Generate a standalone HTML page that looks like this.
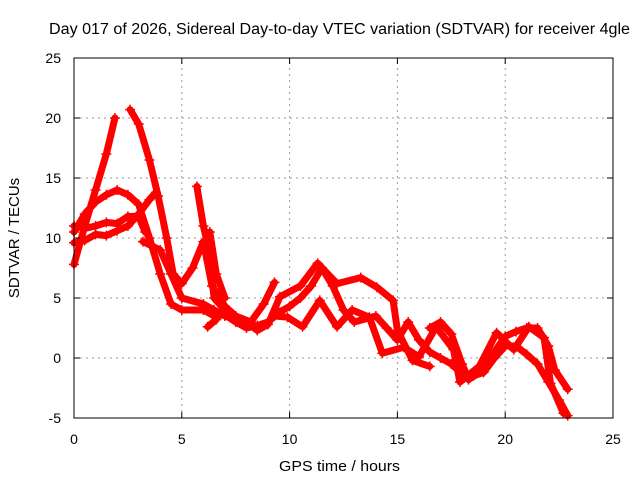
<!DOCTYPE html>
<html><head><meta charset="utf-8"><style>
body{margin:0;background:#fff}
svg{display:block;font-family:"Liberation Sans",sans-serif}
</style></head><body>
<svg id="chart" width="640" height="480" viewBox="0 0 640 480">
<rect width="640" height="480" fill="#fff"/>
<text x="49" y="34" font-size="15.5" textLength="581" lengthAdjust="spacingAndGlyphs">Day 017 of 2026, Sidereal Day-to-day VTEC variation (SDTVAR) for receiver 4gle</text>
<g id="grid"></g>
<g id="series"></g>
<g id="axes"></g>
<text x="279" y="471" font-size="15" textLength="121" lengthAdjust="spacingAndGlyphs">GPS time / hours</text>
<text transform="translate(19,238) rotate(-90)" text-anchor="middle" font-size="15">SDTVAR / TECUs</text>
</svg>
<script>
const xTicks=[0,5,10,15,20,25];
const yTicks=[-5,0,5,10,15,20,25];
const track1=[[0,7.8],[0.5,11],[1,14],[1.5,17],[1.9,20]];
const track2=[[2.6,20.7],[3,19.5],[3.5,16.5],[3.9,13.5],[4.3,10],[4.6,7],[5,6.2],[5.5,7.5],[6,9.7],[6.4,6],[7,4.3],[7.5,3.5],[8.2,3],[8.8,4.5],[9.3,6.3]];
const track3=[[0,10.5],[0.5,12],[1,13],[1.5,13.6],[2,14],[2.5,13.6],[3,12.8],[3.5,10],[4,7],[4.5,4.5],[5,4],[6,4],[6.5,3.5],[7,3.6],[7.5,3],[8,2.5],[8.5,2.7],[9,3],[9.5,3.8],[10,4.3],[10.5,5],[11,6],[11.5,7.5],[12,6],[12.5,4],[13,3],[14,3.5],[14.5,2.5],[15,1.5],[15.5,3],[16,1.5],[16.5,0.5],[17,0],[17.5,-0.5],[18,-1.3],[18.5,-1.5],[19,-1.2],[19.5,0],[20,1],[20.5,1],[21,0.3],[21.5,-0.5],[22,-2],[22.5,-3.5],[22.9,-4.8]];
const track4=[[0,9.6],[0.5,9.8],[1,10.3],[1.5,10.2],[2,10.6],[2.5,11],[3,12],[3.5,13.2],[3.8,13.8]];
const track5=[[0,11],[0.5,10.8],[1,11],[1.5,11.3],[2,11.2],[2.5,11.8],[3,11.8],[3.3,10.5]];
const track6=[[3.2,9.7],[4,9],[4.5,7],[5,5],[6,4.5],[6.5,4],[7,3.5],[8,3],[8.5,2.3],[9,2.8],[9.55,5.1],[10.5,6],[11.3,7.9],[12.2,6.2],[13.3,6.7],[14.05,5.9],[14.8,4.8],[15,2.3],[15.7,-0.2],[16.5,-0.7]];
const track7=[[9.3,3.5],[9.9,3.4],[10.6,2.6],[11.4,4.8],[12.2,2.6],[12.9,4],[13.7,3.4],[14.3,0.4],[15.3,0.9],[16,0.1],[16.8,2.6],[17.6,0.7],[17.9,-2],[18.8,-0.7],[19.6,2.1],[20.4,0.7],[21.1,2.6],[21.8,1.7],[22.1,-2.1],[22.7,-4.6]];
const track8=[[16.5,2.5],[17,3],[17.5,2],[18,-0.5],[18.3,-1.8],[19,-1],[19.5,0.5],[20,1.8],[20.5,2.2],[21,2.5],[21.5,2.5],[22,1],[22.3,-1],[22.9,-2.6]];
const track9=[[5.7,14.3],[6,11],[6.2,9.5],[6.5,5],[7,4]];
const track10=[[6.3,10.5],[6.6,7],[7,5]];
const track11=[[6.2,2.6],[6.6,3.2]];
const tracks=[track1,track2,track3,track4,track5,track6,track7,track8,track9,track10,track11];
const X0=74,X1=613,Y0=418,Y1=58,xmin=0,xmax=25,ymin=-5,ymax=25;
const sx=v=>X0+(v-xmin)/(xmax-xmin)*(X1-X0);
const sy=v=>Y0-(v-ymin)/(ymax-ymin)*(Y0-Y1);
const NS="http://www.w3.org/2000/svg";
const grid=document.getElementById('grid'),axes=document.getElementById('axes'),ser=document.getElementById('series');
function mk(t,a,p){const e=document.createElementNS(NS,t);for(const k in a)e.setAttribute(k,a[k]);p.appendChild(e);return e;}
xTicks.forEach(t=>{
  if(t>xmin&&t<xmax){const g=mk('line',{x1:sx(t),x2:sx(t),y1:Y0,y2:Y1,stroke:'#999','stroke-dasharray':'2,4'},grid);
  
  }
  mk('line',{x1:sx(t),x2:sx(t),y1:Y0,y2:Y0-6,stroke:'#000'},axes);
  mk('line',{x1:sx(t),x2:sx(t),y1:Y1,y2:Y1+6,stroke:'#000'},axes);
  const l=mk('text',{x:sx(t),y:Y0+26,'text-anchor':'middle','font-size':14},axes);l.textContent=t;
  
  
});
yTicks.forEach(t=>{
  if(t>ymin&&t<ymax){const g=mk('line',{x1:X0,x2:X1,y1:sy(t),y2:sy(t),stroke:'#999','stroke-dasharray':'2,4'},grid);
  
  }
  mk('line',{x1:X0,x2:X0+6,y1:sy(t),y2:sy(t),stroke:'#000'},axes);
  mk('line',{x1:X1,x2:X1-6,y1:sy(t),y2:sy(t),stroke:'#000'},axes);
  const l=mk('text',{x:X0-13,y:sy(t)+5,'text-anchor':'end','font-size':14},axes);l.textContent=t;
  
  
});
const b=mk('rect',{x:X0,y:Y1,width:X1-X0,height:Y0-Y1,fill:'none',stroke:'#000'},axes);


tracks.forEach((tr,i)=>{
  const p=mk('polyline',{points:tr.map(d=>sx(d[0])+','+sy(d[1])).join(' '),fill:'none',stroke:'#f00','stroke-width':7,'stroke-linejoin':'round','stroke-linecap':'round'},ser);
  
  
  tr.forEach(d=>{
    const m=mk('path',{d:`M${sx(d[0])-5},${sy(d[1])}h10M${sx(d[0])},${sy(d[1])-5}v10`,stroke:'#f00','stroke-width':1.5},ser);
    
    
  });
});
</script>
</body></html>
